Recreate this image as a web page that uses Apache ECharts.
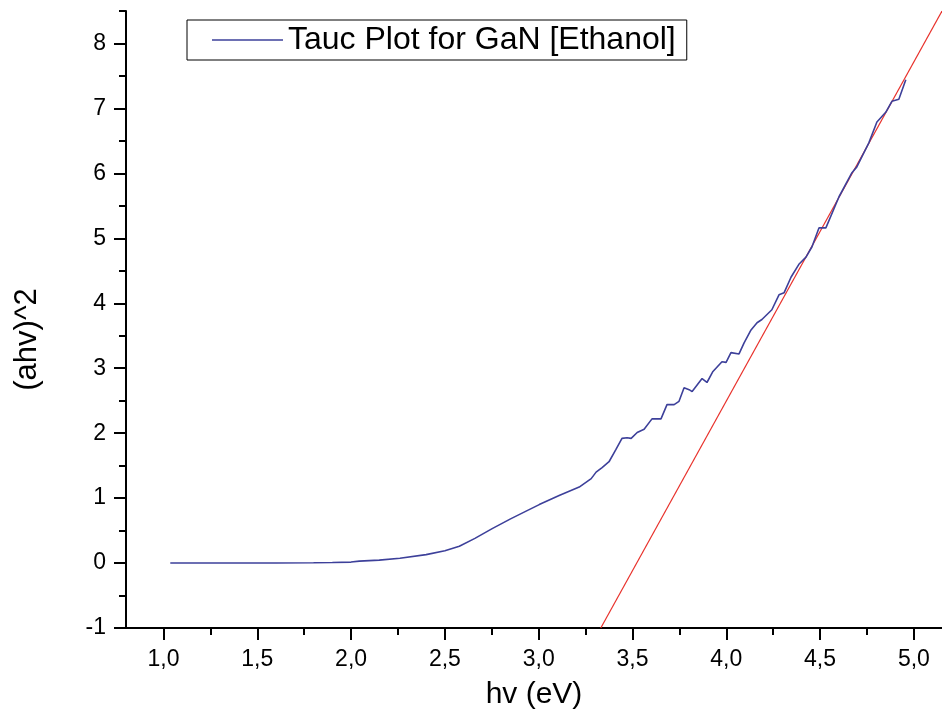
<!DOCTYPE html>
<html>
<head>
<meta charset="utf-8">
<script src="https://cdn.jsdelivr.net/npm/echarts@6/dist/echarts.min.js"></script>
<style>html,body{margin:0;padding:0;background:#fff}#c{width:942px;height:724px}</style>
</head>
<body>
<div id="c"></div>
<script>
const hvValues = [1.036, 1.2, 1.4, 1.6, 1.8, 1.9, 2.0, 2.044, 2.15, 2.26, 2.40, 2.50, 2.577, 2.66, 2.752, 2.85, 2.933, 3.003, 3.109, 3.216, 3.280, 3.306, 3.338, 3.375, 3.412, 3.444, 3.471, 3.493, 3.525, 3.562, 3.604, 3.652, 3.684, 3.722, 3.748, 3.775, 3.802, 3.818, 3.871, 3.897, 3.929, 3.977, 3.999, 4.025, 4.068, 4.095, 4.132, 4.164, 4.190, 4.243, 4.281, 4.308, 4.345, 4.387, 4.425, 4.457, 4.494, 4.531, 4.601, 4.670, 4.696, 4.760, 4.803, 4.850, 4.883, 4.920, 4.957];
const taucValues = [0, 0, 0, 0, 0.005, 0.008, 0.015, 0.03, 0.045, 0.075, 0.13, 0.19, 0.26, 0.38, 0.53, 0.68, 0.80, 0.90, 1.04, 1.17, 1.30, 1.40, 1.47, 1.56, 1.75, 1.92, 1.93, 1.92, 2.01, 2.06, 2.22, 2.22, 2.44, 2.44, 2.49, 2.70, 2.67, 2.64, 2.84, 2.78, 2.95, 3.10, 3.09, 3.24, 3.22, 3.39, 3.59, 3.70, 3.75, 3.90, 4.13, 4.16, 4.40, 4.60, 4.71, 4.87, 5.16, 5.16, 5.64, 6.01, 6.10, 6.47, 6.79, 6.94, 7.11, 7.14, 7.44];
const fitHv = [3.331, 5.15];
const fitValues = [-1, 8.5];
const xTicks = [1.0, 1.5, 2.0, 2.5, 3.0, 3.5, 4.0, 4.5, 5.0];
const xMinorTicks = [1.25, 1.75, 2.25, 2.75, 3.25, 3.75, 4.25, 4.75];
const yTicks = [-1, 0, 1, 2, 3, 4, 5, 6, 7, 8];
const yMinorTicks = [-0.5, 0.5, 1.5, 2.5, 3.5, 4.5, 5.5, 6.5, 7.5, 8.5];
const seriesName = 'Tauc Plot for GaN [Ethanol]';

const FONT = 'Liberation Sans, Arial, sans-serif';
const X_MIN = 0.8, X_MAX = 5.15, Y_MIN = -1, Y_MAX = 8.5;
const chart = echarts.init(document.getElementById('c'), null, {renderer: 'canvas'});

function tickAxis(kind, values, len) {
  return {
    type: 'value',
    min: kind === 'x' ? X_MIN : Y_MIN,
    max: kind === 'x' ? X_MAX : Y_MAX,
    position: kind === 'x' ? 'bottom' : 'left',
    axisLine: {show: false, onZero: false},
    splitLine: {show: false},
    axisLabel: {show: false},
    axisTick: {show: true, inside: false, length: len, customValues: values, lineStyle: {color: '#000', width: 2}}
  };
}

chart.setOption({
  animation: false,
  backgroundColor: '#fff',
  grid: {left: 126, right: 0, top: 11, bottom: 96, containLabel: false},
  legend: {
    data: [{name: seriesName, icon: 'rect'}],
    left: 187, top: 20,
    orient: 'horizontal',
    borderColor: '#000', borderWidth: 1,
    padding: [3, 11, 3, 25],
    itemWidth: 71, itemHeight: 1.5,
    textStyle: {fontFamily: FONT, fontSize: 32, color: '#000', lineHeight: 34}
  },
  xAxis: [{
    type: 'value', min: X_MIN, max: X_MAX,
    axisLine: {show: true, onZero: false, lineStyle: {color: '#000', width: 2}},
    splitLine: {show: false},
    axisTick: {show: false},
    axisLabel: {customValues: xTicks, margin: 20, fontFamily: FONT, fontSize: 23, color: '#000',
      formatter: v => v.toFixed(1).replace('.', ',')},
    name: 'hv (eV)', nameLocation: 'middle', nameGap: 52,
    nameTextStyle: {fontFamily: FONT, fontSize: 30, color: '#000'}
  }, tickAxis('x', xMinorTicks, 7), tickAxis('x', xTicks, 12)],
  yAxis: [{
    type: 'value', min: Y_MIN, max: Y_MAX,
    axisLine: {show: true, onZero: false, lineStyle: {color: '#000', width: 2}},
    splitLine: {show: false},
    axisTick: {show: false},
    axisLabel: {customValues: yTicks, margin: 20, fontFamily: FONT, fontSize: 23, color: '#000'},
    name: '(ahv)^2', nameLocation: 'middle', nameGap: 83, nameRotate: 90,
    nameTextStyle: {fontFamily: FONT, fontSize: 31, color: '#000', padding: [0, 40, 0, 0]}
  }, tickAxis('y', yMinorTicks, 7), tickAxis('y', yTicks, 12)],
  series: [{
    name: seriesName, type: 'line',
    data: hvValues.map((h, i) => [h, taucValues[i]]),
    symbol: 'none', showSymbol: false, smooth: false,
    lineStyle: {color: '#3d409a', width: 1.6},
    itemStyle: {color: '#3d409a'},
    z: 3
  }, {
    name: 'fit', type: 'line',
    data: fitHv.map((h, i) => [h, fitValues[i]]),
    symbol: 'none', showSymbol: false,
    lineStyle: {color: '#e8302a', width: 1.2},
    itemStyle: {color: '#e8302a'},
    z: 2
  }]
});
</script>
</body>
</html>
